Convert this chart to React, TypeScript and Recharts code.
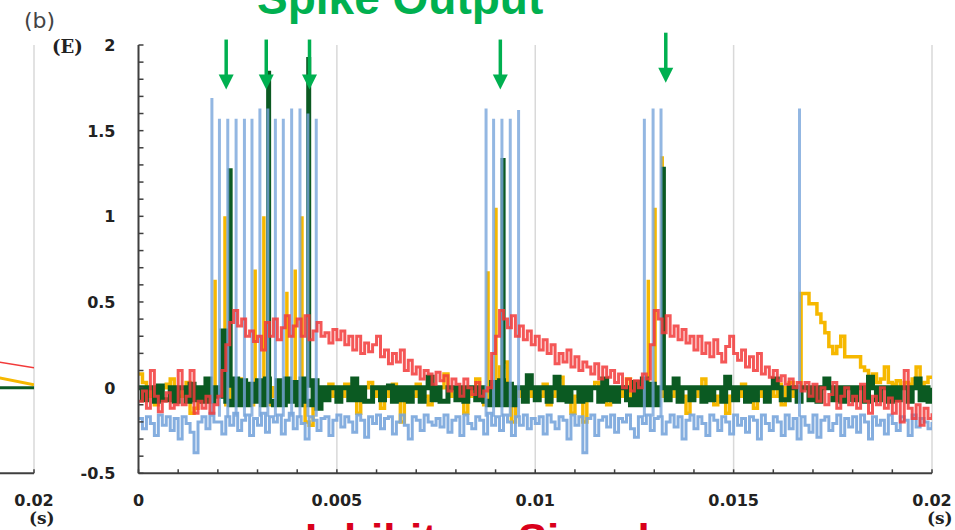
import { LineChart, Line, XAxis, YAxis, ReferenceLine, ReferenceDot } from "recharts";

// sampling step of the traces (s)
const dt = 0.0001;

// traces, one value every 0.1 ms from 0 to 20 ms (201 samples)
const blueTrace = [
  -0.18, -0.24, -0.17, -0.21, -0.28, -0.16, -0.22, -0.17, -0.25, -0.18,
  -0.3, -0.17, -0.21, -0.26, -0.38, -0.2, -0.17, -0.24, -0.15, -0.2,
  -0.2, -0.27, -0.17, -0.22, -0.15, -0.25, -0.19, -0.16, -0.28, -0.18,
  -0.22, -0.15, -0.26, -0.17, -0.2, -0.16, -0.27, -0.19, -0.15, -0.24,
  -0.17, -0.21, -0.3, -0.17, -0.19, -0.25, -0.18, -0.17, -0.28, -0.19,
  -0.16, -0.23, -0.17, -0.2, -0.26, -0.16, -0.19, -0.29, -0.17, -0.21,
  -0.16, -0.24, -0.18, -0.17, -0.27, -0.2, -0.16, -0.22, -0.3, -0.17,
  -0.19, -0.25, -0.16, -0.2, -0.22, -0.18, -0.23, -0.16, -0.26, -0.19,
  -0.17, -0.28, -0.16, -0.21, -0.24, -0.17, -0.19, -0.27, -0.15, -0.22,
  -0.17, -0.25, -0.16, -0.2, -0.28, -0.17, -0.22, -0.16, -0.24, -0.18,
  -0.21, -0.17, -0.27, -0.16, -0.2, -0.24, -0.17, -0.19, -0.3, -0.16,
  -0.22, -0.17, -0.38, -0.18, -0.16, -0.28, -0.19, -0.17, -0.23, -0.16,
  -0.26, -0.18, -0.2, -0.16, -0.24, -0.29, -0.17, -0.21, -0.16, -0.25,
  -0.18, -0.17, -0.27, -0.2, -0.16, -0.23, -0.17, -0.3, -0.19, -0.16,
  -0.24, -0.17, -0.21, -0.28, -0.16, -0.19, -0.25, -0.17, -0.2, -0.27,
  -0.16, -0.22, -0.18, -0.26, -0.17, -0.19, -0.3, -0.16, -0.21, -0.25,
  -0.17, -0.2, -0.28, -0.16, -0.24, -0.18, -0.3, -0.17, -0.22, -0.26,
  -0.16, -0.29, -0.19, -0.17, -0.25, -0.21, -0.16, -0.28, -0.18, -0.23,
  -0.17, -0.26, -0.16, -0.2, -0.3, -0.17, -0.22, -0.19, -0.27, -0.16,
  -0.21, -0.25, -0.17, -0.19, -0.28, -0.16, -0.23, -0.18, -0.2, -0.24,
  -0.2,
];

const greenTrace = [
  0, -0.07, 0, 0, -0.08, 0.01, -0.07, -0.07, 0, -0.08,
  0, 0, -0.08, 0.02, -0.07, 0, -0.08, 0.05, -0.08, 0,
  -0.05, 0.33, -0.08, -0.1, 0.05, -0.1, 0.04, -0.1, 0.02, -0.08,
  0.04, -0.1, 0.05, -0.08, -0.1, 0.04, -0.1, 0.05, -0.08, 0.03,
  -0.1, 0.05, -0.08, -0.1, 0.04, -0.12, 0, -0.07, 0, 0,
  -0.08, 0, 0, -0.07, 0.05, -0.07, 0, -0.08, -0.08, 0,
  0, -0.07, 0, 0.01, -0.08, 0, -0.07, 0, -0.08, 0,
  0, -0.08, 0, 0.06, -0.07, 0, -0.08, -0.08, 0, 0,
  -0.07, 0, -0.08, 0, 0, -0.07, 0, -0.08, -0.1, 0.03,
  -0.1, 0.04, -0.1, 0.02, -0.1, 0, 0, -0.08, 0.07, 0,
  -0.07, 0, 0, -0.08, 0, 0.06, -0.07, 0, -0.08, 0,
  0, -0.08, 0, -0.07, 0, 0, -0.08, 0.05, -0.07, 0,
  -0.08, 0, 0, -0.07, -0.1, 0.03, -0.1, 0.05, -0.1, 0.02,
  -0.1, 0, 0, -0.07, 0, 0.05, -0.08, 0, 0, -0.07,
  0, 0, -0.08, 0, -0.07, 0, 0, -0.08, 0.06, 0,
  -0.07, 0, 0, -0.08, 0, -0.07, 0, 0, -0.08, 0,
  0.05, 0, -0.07, -0.07, 0, 0, -0.08, 0, 0, -0.07,
  0, -0.08, 0, 0.05, 0, -0.07, 0, -0.08, 0, 0,
  -0.07, 0, 0, -0.08, 0.06, 0, -0.07, 0, 0, -0.08,
  0, -0.07, 0, 0, -0.08, 0, 0.05, -0.07, 0, -0.08,
  0,
];

const yellowTrace = [
  0.08, 0.03, -0.05, 0, -0.1, -0.05, 0, 0.02, 0.05, -0.08,
  -0.05, 0, 0.03, -0.15, -0.12, 0, -0.05, 0.02, -0.05, 0,
  0, -0.05, -0.1, 0, -0.05, 0.05, -0.08, 0, -0.1, -0.05,
  0, -0.05, -0.1, 0, -0.05, -0.1, 0, -0.08, -0.05, 0,
  -0.1, -0.05, -0.2, -0.22, -0.1, -0.05, 0, -0.05, 0.02, -0.05,
  0, -0.05, 0.02, -0.05, 0, -0.15, -0.05, 0, 0.03, -0.05,
  0, -0.12, -0.05, 0, 0.02, -0.05, -0.2, -0.05, 0, -0.05,
  0.02, 0, -0.05, -0.1, 0, -0.05, 0, 0.08, -0.05, 0,
  -0.05, 0, -0.15, -0.05, 0, 0.05, -0.05, -0.1, 0, -0.05,
  0, 0.12, 0.15, -0.05, -0.2, -0.05, 0, -0.05, 0, -0.05,
  0, -0.05, 0.02, -0.1, -0.05, 0, 0.06, -0.05, 0, -0.15,
  -0.05, 0, -0.2, -0.05, 0, 0.03, -0.05, 0, -0.1, -0.05,
  0, -0.05, 0, 0.05, -0.05, -0.1, 0, -0.05, 0, -0.05,
  -0.05, 0, -0.05, 0, -0.05, 0.05, 0, -0.05, -0.15, 0,
  -0.05, 0, 0.05, -0.05, 0, -0.1, -0.05, 0, -0.15, -0.05,
  0, -0.05, 0.02, -0.05, 0, -0.12, -0.05, 0, -0.05, 0,
  -0.05, 0.02, -0.1, 0, 0.03, -0.05, 0, 0.55, 0.55, 0.49,
  0.49, 0.43, 0.38, 0.32, 0.24, 0.2, 0.24, 0.3, 0.18, 0.18,
  0.18, 0.18, 0.12, 0.1, 0.06, 0.08, 0.03, 0.05, 0.12, 0.03,
  0.02, 0.04, 0, 0.03, 0.02, 0.05, 0.12, 0.02, 0.03, 0.06,
  0.06,
];

const redTrace = [
  -0.08, -0.02, -0.12, 0.1, -0.05, -0.14, -0.08, -0.03, -0.12, -0.1,
  0.1, -0.1, -0.05, 0.1, -0.15, -0.08, -0.12, -0.05, -0.15, -0.1,
  -0.05, 0.1, 0.25, 0.38, 0.45, 0.36, 0.4, 0.3, 0.33, 0.27,
  0.3, 0.22, 0.38, 0.3, 0.4, 0.28, 0.35, 0.42, 0.3, 0.36,
  0.4, 0.3, 0.42, 0.28, 0.33, 0.38, 0.3, 0.32, 0.26, 0.34,
  0.28, 0.33, 0.25, 0.3, 0.22, 0.3, 0.2, 0.26, 0.21, 0.25,
  0.3, 0.18, 0.22, 0.14, 0.2, 0.15, 0.22, 0.1, 0.16, 0.08,
  0.12, 0.05, 0.1, 0.08, 0.02, 0.09, 0.04, 0.07, -0.02, 0.05,
  0.02, -0.05, 0.05, 0, -0.04, 0.03, -0.05, -0.02, 0, 0.2,
  0.3, 0.45, 0.4, 0.35, 0.42, 0.3, 0.36, 0.28, 0.33, 0.25,
  0.3, 0.22, 0.28, 0.2, 0.25, 0.14, 0.2, 0.15, 0.22, 0.12,
  0.18, 0.1, 0.15, 0.12, 0.08, 0.14, 0.05, 0.12, 0.06, 0.1,
  0.03, 0.08, 0, 0.05, -0.02, 0.04, 0, 0.08, 0.05, 0.25,
  0.45, 0.4, 0.32, 0.42, 0.3, 0.36, 0.28, 0.34, 0.26, 0.3,
  0.22, 0.3, 0.2, 0.26, 0.18, 0.28, 0.2, 0.15, 0.24, 0.3,
  0.2, 0.16, 0.22, 0.12, 0.18, 0.1, 0.2, 0.08, 0.12, 0.06,
  0.1, 0.04, 0.07, 0.02, 0.05, 0, 0.03, -0.02, 0.03, -0.05,
  0.02, -0.08, 0, -0.1, -0.04, 0.03, -0.12, -0.05, 0, -0.1,
  -0.05, -0.12, 0.02, -0.08, -0.15, -0.05, -0.1, 0, -0.12, -0.06,
  -0.15, -0.08, -0.2, 0.1, -0.12, -0.18, -0.1, -0.22, -0.12, -0.18,
  -0.15,
];

// spikes (time in s, peak in E)
const blueSpikeTimes = [
  0.00185, 0.00204, 0.00225, 0.00246, 0.00267, 0.00286, 0.00306, 0.00326, 0.00345, 0.00365,
  0.00386, 0.00407, 0.00427, 0.00448, 0.00876, 0.00895, 0.00916, 0.00937, 0.00958, 0.01275,
  0.01297, 0.01317, 0.01666,
];
const blueSpikePeaks = [
  1.69, 1.57, 1.57, 1.57, 1.57, 1.57, 1.63, 1.63, 1.57, 1.57,
  1.63, 1.63, 1.6, 1.57, 1.63, 1.57, 1.57, 1.57, 1.62, 1.57,
  1.63, 1.63, 1.63,
];
const blueSpikeBase = -0.17;

const greenSpikeTimes = [0.00231, 0.00328, 0.00429, 0.00919, 0.01323];
const greenSpikePeaks = [1.28, 1.85, 1.93, 1.34, 1.29];
const greenSpikeBase = 0;

const yellowSpikeTimes = [0.00193, 0.00218, 0.00294, 0.00316, 0.00374, 0.00395, 0.00412, 0.00881, 0.00901, 0.01285, 0.01302, 0.0132];
const yellowSpikePeaks = [0.63, 1.0, 0.69, 1.0, 0.56, 0.69, 1.0, 0.68, 1.05, 0.63, 1.05, 1.35];
const yellowSpikeBase = 0;

// green arrows marking the output spikes
const arrowTimes = [0.00221, 0.00322, 0.00431, 0.00912, 0.01329];
const arrowTips = [1.74, 1.74, 1.74, 1.74, 1.78];

// tail of panel (a) visible on the left
const prevTimes = [0.0191, 0.02];
const prevRed = [0.15, 0.116];
const prevYellow = [0.058, 0.017];
const prevGreen = [0, 0];

const xTicks = [
  0, 0.001, 0.002, 0.003, 0.004, 0.005, 0.006, 0.007, 0.008, 0.009, 0.01,
  0.011, 0.012, 0.013, 0.014, 0.015, 0.016, 0.017, 0.018, 0.019, 0.02,
];
const xMajor = [0, 0.005, 0.01, 0.015, 0.02];
const xLabels = ["0", "0.005", "0.01", "0.015", "0.02"];
const yTicks = [
  -0.5, -0.4, -0.3, -0.2, -0.1, 0, 0.1, 0.2, 0.3, 0.4, 0.5, 0.6, 0.7, 0.8, 0.9,
  1, 1.1, 1.2, 1.3, 1.4, 1.5, 1.6, 1.7, 1.8, 1.9, 2,
];
const yMajor = [-0.5, 0, 0.5, 1, 1.5, 2];
const yLabels = ["-0.5", "0", "0.5", "1", "1.5", "2"];

const BLUE = "#78a5db";
const GREEN = "#0b5a22";
const YELLOW = "#f6b800";
const RED = "#f23a3a";
const ARROW = "#00b050";
const AXIS = "#3f3f3f";
const GRID = "#d9d9d9";
const TICK_FONT = "'DejaVu Sans', Verdana, sans-serif";
const SERIF = "'DejaVu Serif', 'Liberation Serif', serif";

const traceRows = blueTrace.map((b, i) => ({
  t: Number((i * dt).toFixed(4)),
  blue: b,
  green: greenTrace[i],
  yellow: yellowTrace[i],
  red: redTrace[i],
}));

function spikeRows(times: number[], peaks: number[], base: number) {
  return times.flatMap((t, i) => [
    { t, v: base },
    { t, v: peaks[i] },
    { t, v: base },
    { t, v: null },
  ]);
}

const blueSpikes = spikeRows(blueSpikeTimes, blueSpikePeaks, blueSpikeBase);
const greenSpikes = spikeRows(greenSpikeTimes, greenSpikePeaks, greenSpikeBase);
const yellowSpikes = spikeRows(yellowSpikeTimes, yellowSpikePeaks, yellowSpikeBase);

const prevRows = prevTimes.map((t, i) => ({
  t,
  red: prevRed[i],
  yellow: prevYellow[i],
  green: prevGreen[i],
}));

function labelFor(v: number, major: number[], labels: string[]) {
  const k = major.findIndex((m) => Math.abs(m - v) < 1e-9);
  return k >= 0 ? labels[k] : null;
}

// eslint-disable-next-line @typescript-eslint/no-explicit-any
function XTick({ x, y, payload }: any) {
  const label = labelFor(payload.value, xMajor, xLabels);
  return (
    <g>
      <line x1={x} y1={y} x2={x} y2={y - 4} stroke={AXIS} strokeWidth={1.5} />
      {label && (
        <text x={x} y={y + 33} textAnchor="middle" fontFamily={TICK_FONT} fontWeight={700} fontSize={16} fill="#222">
          {label}
        </text>
      )}
    </g>
  );
}

// eslint-disable-next-line @typescript-eslint/no-explicit-any
function YTick({ x, y, payload }: any) {
  const label = labelFor(payload.value, yMajor, yLabels);
  return (
    <g>
      <line x1={x} y1={y} x2={x + 5} y2={y} stroke={AXIS} strokeWidth={1.5} />
      {label && (
        <text x={x - 23} y={y + 6} textAnchor="end" fontFamily={TICK_FONT} fontWeight={700} fontSize={16} fill="#222">
          {label}
        </text>
      )}
    </g>
  );
}

// eslint-disable-next-line @typescript-eslint/no-explicit-any
function Arrow({ cx, cy }: any) {
  return (
    <g>
      <line x1={cx} y1={cy - 50} x2={cx} y2={cy - 12} stroke={ARROW} strokeWidth={3.5} />
      <path d={`M${cx - 7.5},${cy - 15} L${cx + 7.5},${cy - 15} L${cx},${cy} Z`} fill={ARROW} />
    </g>
  );
}

const box: React.CSSProperties = { position: "fixed", left: 0, top: 0 };

export default function App() {
  return (
    <div style={{ ...box, width: 955, height: 530, background: "#fff", overflow: "hidden" }}>
      <div style={box}>
        <LineChart width={955} height={530} data={traceRows} margin={{ top: 45, right: 23, bottom: 0, left: 0 }}>
          <XAxis
            dataKey="t"
            type="number"
            domain={[0, 0.02]}
            ticks={xTicks}
            interval={0}
            height={56.7}
            tickSize={0}
            tickMargin={0}
            tickLine={false}
            tick={<XTick />}
            axisLine={{ stroke: AXIS, strokeWidth: 2 }}
            allowDataOverflow
          />
          <YAxis
            type="number"
            domain={[-0.5, 2]}
            ticks={yTicks}
            interval={0}
            width={138.5}
            tickSize={0}
            tickMargin={0}
            tickLine={false}
            tick={<YTick />}
            axisLine={{ stroke: AXIS, strokeWidth: 2 }}
            allowDataOverflow
          />
          {xMajor.slice(1).map((v) => (
            <ReferenceLine key={v} x={v} stroke={GRID} strokeWidth={1.5} />
          ))}
          <Line dataKey="yellow" type="stepAfter" stroke={YELLOW} strokeWidth={3.5} dot={false} isAnimationActive={false} />
          <Line data={yellowSpikes} dataKey="v" type="linear" stroke={YELLOW} strokeWidth={3.5} dot={false} connectNulls={false} isAnimationActive={false} />
          <Line dataKey="green" type="stepAfter" stroke={GREEN} strokeWidth={5} dot={false} isAnimationActive={false} />
          <Line data={greenSpikes} dataKey="v" type="linear" stroke={GREEN} strokeWidth={5} dot={false} connectNulls={false} isAnimationActive={false} />
          <Line dataKey="blue" type="stepAfter" stroke={BLUE} strokeOpacity={0.9} strokeWidth={3} dot={false} isAnimationActive={false} />
          <Line data={blueSpikes} dataKey="v" type="linear" stroke={BLUE} strokeOpacity={0.8} strokeWidth={3} dot={false} connectNulls={false} isAnimationActive={false} />
          <Line dataKey="red" type="stepAfter" stroke={RED} strokeOpacity={0.85} strokeWidth={3} dot={false} isAnimationActive={false} />
          {arrowTimes.map((t, i) => (
            <ReferenceDot key={t} x={t} y={arrowTips[i]} r={0} ifOverflow="visible" shape={<Arrow />} />
          ))}
        </LineChart>
      </div>

      <div style={box}>
        <LineChart width={80} height={530} data={prevRows} margin={{ top: 45, right: 46, bottom: 0, left: 0 }}>
          <XAxis
            dataKey="t"
            type="number"
            domain={[0.01914, 0.02]}
            ticks={[0.02]}
            height={56.7}
            tickSize={0}
            tickMargin={0}
            tickLine={false}
            tick={<XTick />}
            axisLine={{ stroke: AXIS, strokeWidth: 2 }}
            allowDataOverflow
          />
          <YAxis type="number" domain={[-0.5, 2]} hide allowDataOverflow />
          <ReferenceLine x={0.02} stroke={GRID} strokeWidth={1.5} />
          <Line dataKey="red" stroke={RED} strokeWidth={1.5} dot={false} isAnimationActive={false} />
          <Line dataKey="yellow" stroke={YELLOW} strokeWidth={3} dot={false} isAnimationActive={false} />
          <Line dataKey="green" stroke={GREEN} strokeWidth={3} dot={false} isAnimationActive={false} />
        </LineChart>
      </div>

      <svg style={{ ...box, pointerEvents: "none" }} width={955} height={530}>
        <text x={24} y={28} fontFamily="'DejaVu Sans', sans-serif" fontSize={22} fill="#444">(b)</text>
        <text x={52} y={53} fontFamily={SERIF} fontWeight={700} fontSize={18} fill="#222">(E)</text>
        <text x={927} y={524} fontFamily={SERIF} fontWeight={700} fontSize={17} fill="#222">(s)</text>
        <text x={29} y={524} fontFamily={SERIF} fontWeight={700} fontSize={17} fill="#222">(s)</text>
        <text x={257} y={14} fontFamily="'Liberation Sans', Arial, sans-serif" fontWeight={700} fontSize={46} fill={ARROW}>
          Spike Output
        </text>
        <text x={305} y={555} fontFamily="'Liberation Sans', Arial, sans-serif" fontWeight={700} fontSize={44} fill="#d9001b">
          Inhibitory Signal
        </text>
      </svg>
    </div>
  );
}
